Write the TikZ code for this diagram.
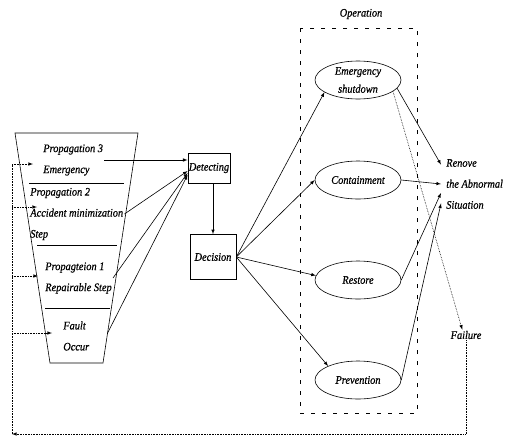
\documentclass[tikz,border=0pt]{standalone}
\usepackage{fontspec}
\setmainfont{Liberation Serif}[FakeStretch=0.9, FakeBold=0.6]
\usetikzlibrary{arrows.meta}
\usetikzlibrary{positioning, calc}
\usetikzlibrary{shapes.geometric}

\begin{document}
\begin{tikzpicture}[x=1pt, y=-1pt, line width=0.6pt,
    txt/.style={font=\fontsize{11.5}{21}\selectfont\itshape, inner sep=1pt},
    stage/.style={txt, align=left, anchor=west},
    block/.style={txt, draw, align=center},
    oval/.style={txt, draw, ellipse, align=center, font=\fontsize{11.5}{18}\selectfont\itshape, minimum width=86, minimum height=38, inner sep=0pt},
    feed/.style={densely dotted, -latex}
]
    \useasboundingbox (0,0) rectangle (513,437);

    % funnel of propagation stages
    \coordinate (tl) at (15,133);
    \coordinate (tr) at (138,133);
    \coordinate (br) at (103,363);
    \coordinate (bl) at (50,363);
    \draw (tl) -- (tr) -- (br) -- (bl) -- cycle;
    \draw (29,183) -- (124,183);
    \draw (37,245) -- (117,245);
    \draw (45,308) -- (110,308);

    \node[stage] (stage3) at (42,160) {Propagation 3\\Emergency};
    \node[stage] (stage2) at (29,214) {Propagation 2\\Accident minimization\\Step};
    \node[stage] (stage1) at (44,278) {Propagteion 1\\Repairable Step};
    \node[stage] (fault) at (62,336) {Fault\\Occur};
    \coordinate (out0) at ($(tr)!0.87!(br)$);

    % detecting and decision
    \draw (209,168) node[block, minimum width=42, minimum height=30] (detect) {Detecting};
    \draw (detect) ++(4,89) node[block, minimum width=46, minimum height=45] (decide) {Decision};

    \draw[-latex] (stage3.east) -- (stage3.east -| detect.west);
    \draw[-latex] (stage2.east) -- (detect.188);
    \draw[-latex] (stage1.east) -- (detect.193);
    \draw[-latex] (out0) -- (detect.198);
    \draw[-latex] (detect.south -| decide.north) -- (decide.north);

    % operation block
    \draw[dash pattern=on 4pt off 7pt] (300,28) rectangle (417,413);
    \node[txt] (oper) at (361,14) {Operation};
    \foreach \e/\t [count=\i from 0] in {emerg/{Emergency\\shutdown}, cont/Containment, rest/Restore, prev/Prevention} {
        \draw (358,80) ++(0,100*\i) node[oval] (\e) {\t};
    }
    \foreach \e/\a in {emerg/200, cont/180, rest/174, prev/155} {
        \draw[-latex] (decide.east) -- (\e.\a);
    }

    % outcomes
    \node[stage, inner xsep=5pt] (remove) at (441,184) {Renove\\the Abnormal\\Situation};
    \node[txt] (fail) at (466,335) {Failure};

    \draw[-latex] (emerg.-12) -- (remove.150);
    \draw[-latex] (cont.east) -- (remove.west);
    \draw[-latex] (rest.east) -- (remove.195);
    \draw[-latex] (prev.east) -- (remove.210);
    \draw[feed] (emerg.-18) -- (fail.125);

    % feedback to the funnel
    \coordinate (back) at (12,434);
    \coordinate (in3) at (33,164);
    \coordinate (in2) at (37,207);
    \coordinate (in1) at (38,276);
    \coordinate (in0) at (52,333);
    \draw[feed] (fail.south) |- (back);
    \draw[densely dotted] (back) -- (back |- in3);
    \foreach \p in {in3, in2, in1, in0} {
        \draw[feed] (back |- \p) -- (\p);
    }
\end{tikzpicture}
\end{document}
